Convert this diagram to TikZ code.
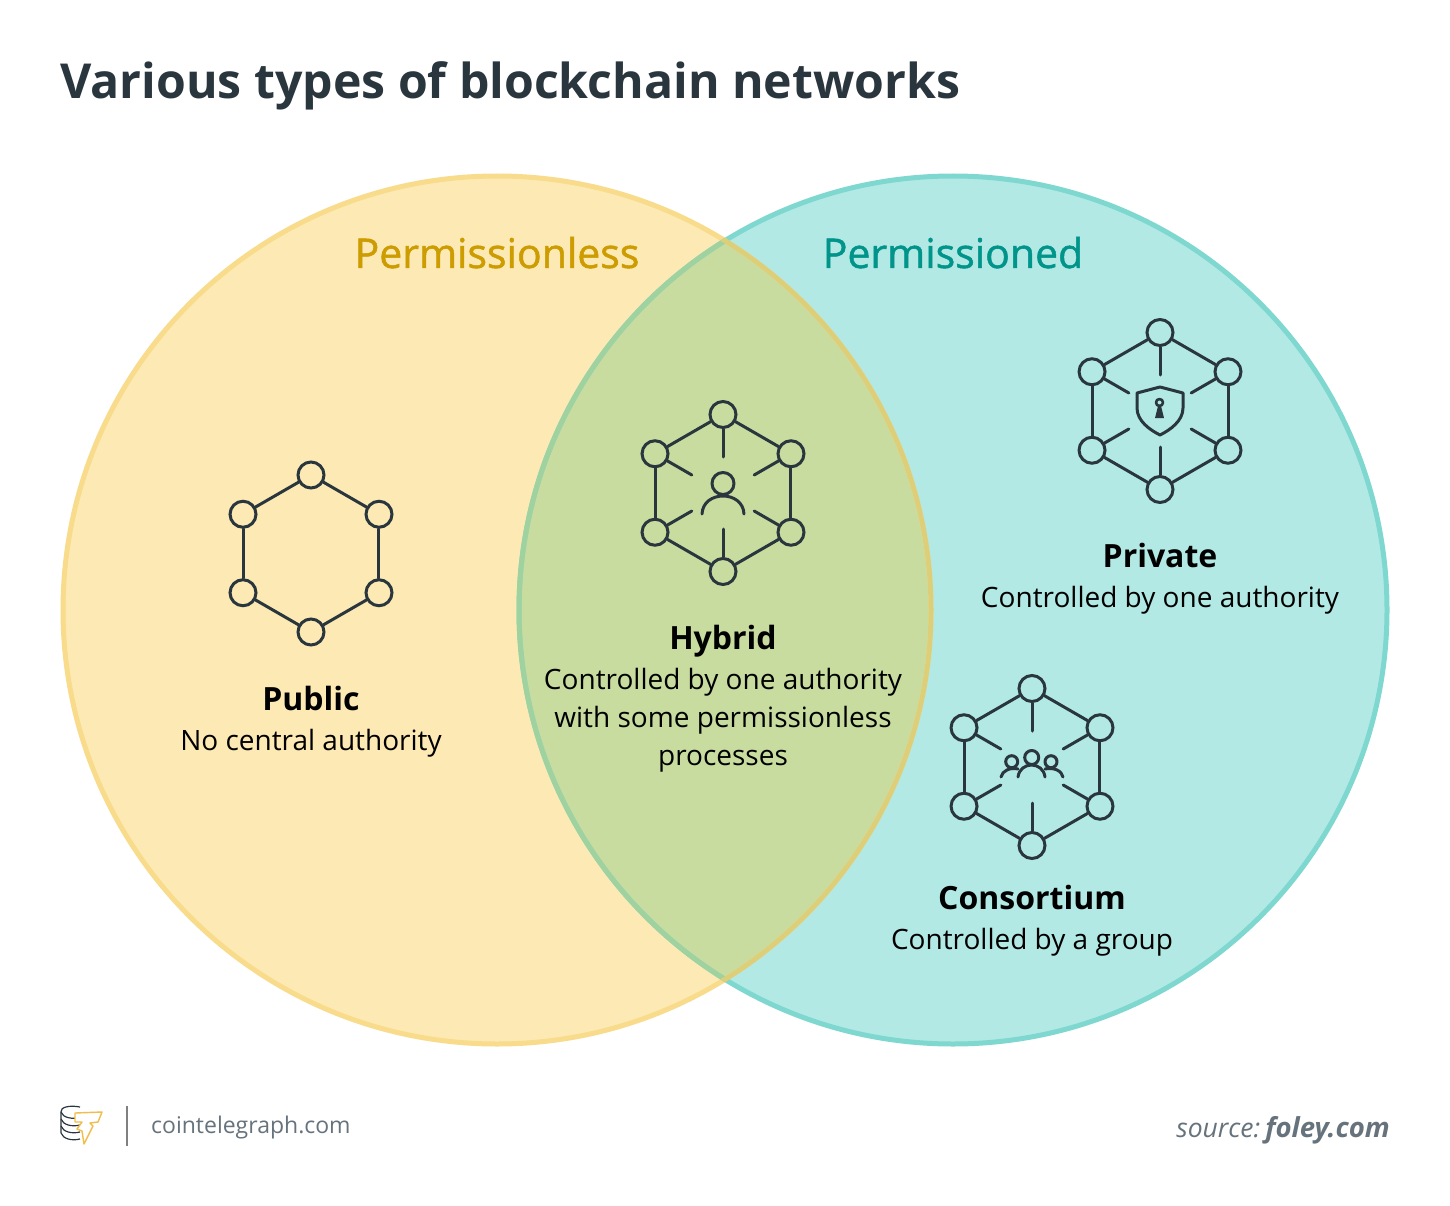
\documentclass[tikz,border=0pt]{standalone}
\usepackage{fontspec}
\setmainfont{Open Sans}
\newfontfamily\semifont[FakeBold=1.2]{Open Sans}
\usetikzlibrary{calc}
\usetikzlibrary{positioning}

\definecolor{inkdark}{HTML}{2A363D}
\definecolor{yellowfill}{HTML}{FDE9B3}
\definecolor{yellowline}{HTML}{F8DC8C}
\definecolor{yellowover}{HTML}{DDCF7A}
\definecolor{tealfill}{HTML}{B2E9E5}
\definecolor{tealline}{HTML}{7FD8D0}
\definecolor{tealover}{HTML}{A0D2A0}
\definecolor{bothfill}{HTML}{C8DCA0}
\definecolor{yellowtext}{HTML}{CC9C00}
\definecolor{tealtext}{HTML}{00948A}
\definecolor{greytext}{HTML}{66737C}
\definecolor{coinbolt}{HTML}{F0BE4A}

% six circles joined in a ring, the spokes are optional
\newcommand{\hexring}[3]{
  \coordinate (#1) at (#2,#3);
  \foreach \i/\ang in {1/90,2/30,3/-30,4/-90,5/-150,6/150}
    \node (#1\i) [hexdot] at ($(#1)+(\ang:78.5)$) {};
  \draw[icon] (#11) -- (#12);
  \draw[icon] (#12) -- (#13);
  \draw[icon] (#13) -- (#14);
  \draw[icon] (#14) -- (#15);
  \draw[icon] (#15) -- (#16);
  \draw[icon] (#16) -- (#11);
}
\newcommand{\hexspokes}[1]{
  \foreach \i/\ang in {1/90,2/30,3/-30,4/-90,5/-150,6/150}{
    \coordinate (#1s\i) at ($(#1)+(\ang:36)$);
    \draw[icon] (#1\i) -- (#1s\i);
  }
}

\begin{document}
\begin{tikzpicture}[x=1pt, y=-1pt,
  icon/.style={line width=3pt, draw=inkdark, line cap=round, line join=round},
  hexdot/.style={
    circle,
    inner sep=0pt,
    minimum size=26pt,
    line width=3pt,
    draw=inkdark},
  title/.style={font=\fontsize{32}{38}\selectfont\bfseries, text=black, inner sep=0pt, anchor=base},
  desc/.style={font=\fontsize{28}{38}\selectfont, text=black, inner sep=0pt, align=center},
  side/.style={font=\fontsize{41}{46}\selectfont\semifont, inner sep=0pt, anchor=base}]

  \useasboundingbox (0,0) rectangle (1450,1206);
  \fill[white] (0,0) rectangle (1450,1206);

  % the two sets
  \fill[yellowfill] (497,610) circle [radius=434];
  \fill[tealfill] (953,610) circle [radius=434];
  \begin{scope}
    \clip (953,610) circle [radius=434];
    \fill[bothfill] (497,610) circle [radius=434];
  \end{scope}
  \draw[yellowline, line width=5pt] (497,610) circle [radius=434];
  \draw[tealline, line width=5pt] (953,610) circle [radius=434];
  \begin{scope}
    \clip (497,610) circle [radius=436.5];
    \draw[tealover, line width=5pt] (953,610) circle [radius=434];
  \end{scope}
  \begin{scope}
    \clip (953,610) circle [radius=436.5];
    \draw[yellowover, line width=5pt] (497,610) circle [radius=434];
  \end{scope}

  \node (heading) [inner sep=0pt, anchor=base west, text=inkdark, font=\fontsize{48.2}{54}\selectfont\bfseries] at (60,99) {Various types of blockchain networks};
  \node (permissionless) [side, text=yellowtext] at (497,268) {Permissionless};
  \node (permissioned) [side, text=tealtext] at (953,268) {Permissioned};

  % public
  \hexring{pub}{311}{553.5}
  \node (public) [title] at (311,710) {Public};
  \node (public_txt) [desc, below = 19pt of public] {No central authority};

  % hybrid
  \hexring{hyb}{723}{493}
  \hexspokes{hyb}
  \node (hyb_head) [icon, circle, inner sep=0pt, minimum size=22pt] at (723,483.5) {};
  \draw[icon] (702,514) .. controls (703,490) and (743,490) .. (744,514);
  \node (hybrid) [title] at (723,649) {Hybrid};
  \node (hybrid_txt) [desc, below = 11pt of hybrid] {Controlled by one authority\\ with some permissionless\\ processes};

  % private
  \hexring{pri}{1160}{411}
  \hexspokes{pri}
  \draw[icon] (1160,387) -- (1137,393) -- (1137,408) .. controls (1137,421) and (1150,430) .. (1160,435)
    .. controls (1170,430) and (1183,421) .. (1183,408) -- (1183,393) -- cycle;
  \node (pri_key) [icon, circle, line width=2.6pt, inner sep=0pt, minimum size=7pt] at (1159.5,402.5) {};
  \fill[inkdark] (1158,406) -- (1161,406) -- (1164,418) -- (1155,418) -- cycle;
  \node (private) [title] at (1160,567) {Private};
  \node (private_txt) [desc, below = 19pt of private] {Controlled by one authority};

  % consortium
  \hexring{con}{1032}{767}
  \hexspokes{con}
  \node (con_head) [icon, circle, inner sep=0pt, minimum size=14pt] at (1031.7,757.5) {};
  \node (con_left) [icon, circle, inner sep=0pt, minimum size=12pt] at (1011.7,761.7) {};
  \node (con_right) [icon, circle, inner sep=0pt, minimum size=12pt] at (1051,761.7) {};
  \draw[icon] (1018,777) .. controls (1020,761) and (1043,761) .. (1045,777);
  \draw[icon] (1001,777) .. controls (1002,771) and (1010,767) .. (1018,769);
  \draw[icon] (1063,777) .. controls (1062,771) and (1054,767) .. (1045,769);
  \node (consortium) [title] at (1032,909) {Consortium};
  \node (consortium_txt) [desc, below = 19pt of consortium] {Controlled by a group};

  % footer
  \foreach \yy in {1119,1126,1133}
    \draw[inkdark, line width=1.2pt] (61,\yy) .. controls (63,\yy+6) and (72,\yy+8) .. (80,\yy+6);
  \draw[inkdark, line width=1.2pt] (80,1107) .. controls (70,1105) and (60,1107) .. (61,1112) -- (61,1133);
  \draw[inkdark, line width=1.2pt] (61,1112) .. controls (63,1118) and (72,1119) .. (80,1118);
  \draw[fill=white, draw=coinbolt, line width=1.4pt, line join=round]
    (75,1113) -- (102,1112) -- (98,1122) -- (90,1123) -- (93,1126) -- (84,1144) -- (82,1131) -- (77,1129) -- (82,1122) -- (75,1122) -- cycle;
  \coordinate (sep_top) at (127,1106);
  \coordinate (sep_bot) at (127,1146);
  \draw[gray, line width=2pt] (sep_top) -- (sep_bot);
  \node (site) [inner sep=0pt, anchor=base west, text=greytext, font=\fontsize{23}{28}\selectfont] at (151,1133) {cointelegraph.com};
  \node (source) [inner sep=0pt, anchor=base east, text=greytext, font=\fontsize{26.5}{32}\selectfont\itshape] at (1390,1137) {source:\hspace{5pt}\fontsize{27.5}{32}\selectfont\textbf{foley.com}};
\end{tikzpicture}
\end{document}
